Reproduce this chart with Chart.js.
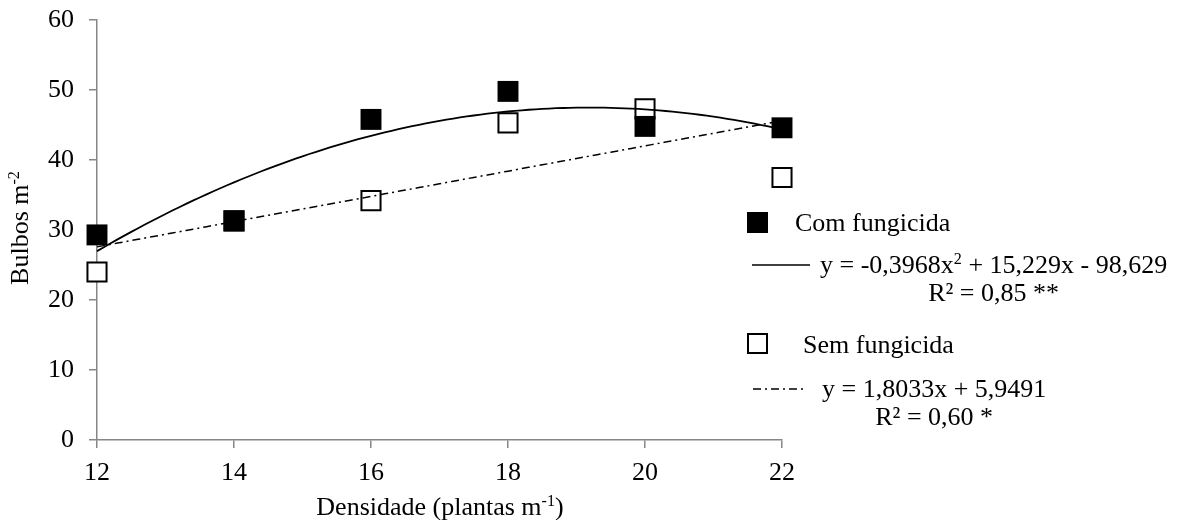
<!DOCTYPE html>
<html lang="pt">
<head>
    <meta charset="UTF-8">
    <title>Bulbos m-2 x Densidade</title>
    <script src="https://cdn.jsdelivr.net/npm/chart.js"></script>
    <style>
        body {
            margin: 0;
            padding: 0;
            background: #ffffff;
        }
        #wrap {
            width: 1187px;
            height: 520px;
            position: relative;
        }
    </style>
</head>
<body>
    <div id="wrap">
        <canvas id="chart" width="1187" height="520"></canvas>
    </div>

    <script>
        // data
        const densidade = [12, 14, 16, 18, 20, 22];
        const comFungicida = [29.3, 31.3, 45.8, 49.8, 44.8, 44.6];
        const semFungicida = [24.0, 31.3, 34.2, 45.3, 47.3, 37.5];

        // regression coefficients printed in the legend (a, b, c of a*x^2 + b*x + c)
        const coefComQuad = [-0.3968, 15.229, -98.629];
        const coefSemLin = [0, 1.8033, 5.9491];

        const xTicks = [12, 14, 16, 18, 20, 22];
        const yTicks = [0, 10, 20, 30, 40, 50, 60];

        const FONT = '"Liberation Serif", "Times New Roman", serif';
        const FS = 26;
        const AXIS_GREY = '#868686';

        function trendPoints(coef) {
            const pts = [];
            for (let x = densidade[0]; x <= densidade[densidade.length - 1] + 1e-9; x += 0.1) {
                pts.push({ x: x, y: coef[0] * x * x + coef[1] * x + coef[2] });
            }
            return pts;
        }

        function toXY(ys) {
            return densidade.map((x, i) => ({ x: x, y: ys[i] }));
        }

        function richWidth(ctx, parts, size) {
            let total = 0;
            parts.forEach(p => {
                ctx.font = (p[1] ? size * 0.62 : size) + 'px ' + FONT;
                total += ctx.measureText(p[0]).width;
            });
            return total;
        }

        // text with superscript pieces: parts = [[text, isSup], ...]
        function drawRich(ctx, parts, x, y, size, align) {
            const total = richWidth(ctx, parts, size);
            let cx = align === 'center' ? x - total / 2 : x;
            ctx.textAlign = 'left';
            ctx.textBaseline = 'alphabetic';
            parts.forEach(p => {
                ctx.font = (p[1] ? size * 0.62 : size) + 'px ' + FONT;
                ctx.fillText(p[0], cx, p[1] ? y - size * 0.36 : y);
                cx += ctx.measureText(p[0]).width;
            });
            return total;
        }

        const extrasPlugin = {
            id: 'extras',
            afterDraw(chart) {
                const ctx = chart.ctx;
                ctx.save();
                ctx.fillStyle = '#000';

                // axis titles
                drawRich(ctx, [['Densidade (plantas m', false], ['-1', true], [')', false]], 440, 515, FS, 'center');
                ctx.save();
                ctx.translate(28, 228);
                ctx.rotate(-Math.PI / 2);
                drawRich(ctx, [['Bulbos m', false], ['-2', true]], 0, 0, FS, 'center');
                ctx.restore();

                // legend
                ctx.fillRect(747, 212, 21, 21);
                drawRich(ctx, [['Com fungicida', false]], 795, 231, FS, 'left');

                ctx.strokeStyle = '#000';
                ctx.lineWidth = 1.6;
                ctx.beginPath();
                ctx.moveTo(752, 265);
                ctx.lineTo(810, 265);
                ctx.stroke();
                const w1 = drawRich(ctx, [['y = -0,3968x', false], ['2', true], [' + 15,229x - 98,629', false]], 820, 273, FS, 'left');
                drawRich(ctx, [['R² = 0,85 **', false]], 820 + w1 / 2, 301, FS, 'center');

                ctx.lineWidth = 2;
                ctx.strokeRect(748, 334, 19, 19);
                drawRich(ctx, [['Sem fungicida', false]], 803, 353, FS, 'left');

                ctx.lineWidth = 1.5;
                ctx.setLineDash([8, 4, 2, 4]);
                ctx.beginPath();
                ctx.moveTo(753, 389);
                ctx.lineTo(806, 389);
                ctx.stroke();
                ctx.setLineDash([]);
                const w2 = drawRich(ctx, [['y = 1,8033x + 5,9491', false]], 822, 397, FS, 'left');
                drawRich(ctx, [['R² = 0,60 *', false]], 822 + w2 / 2, 425, FS, 'center');

                ctx.restore();
            }
        };

        const ctx = document.getElementById('chart').getContext('2d');

        new Chart(ctx, {
            type: 'scatter',
            data: {
                datasets: [
                    {
                        label: 'Com fungicida (tendência)',
                        type: 'line',
                        data: trendPoints(coefComQuad),
                        borderColor: '#000',
                        borderWidth: 1.8,
                        pointRadius: 0,
                        fill: false,
                        tension: 0,
                        clip: false
                    },
                    {
                        label: 'Sem fungicida (tendência)',
                        type: 'line',
                        data: trendPoints(coefSemLin),
                        borderColor: '#000',
                        borderWidth: 1.5,
                        borderDash: [8, 4, 2, 4],
                        pointRadius: 0,
                        fill: false,
                        tension: 0,
                        clip: false
                    },
                    {
                        label: 'Com fungicida',
                        data: toXY(comFungicida),
                        pointStyle: 'rect',
                        pointRadius: 14.8,
                        backgroundColor: '#000',
                        borderColor: '#000',
                        borderWidth: 0,
                        clip: false
                    },
                    {
                        label: 'Sem fungicida',
                        data: toXY(semFungicida),
                        pointStyle: 'rect',
                        pointRadius: 13.5,
                        backgroundColor: '#fff',
                        borderColor: '#000',
                        borderWidth: 2,
                        clip: false
                    }
                ]
            },
            options: {
                responsive: false,
                animation: false,
                layout: {
                    padding: { left: 0, top: 20, right: 405, bottom: 0 }
                },
                plugins: {
                    legend: { display: false },
                    tooltip: { enabled: false }
                },
                scales: {
                    x: {
                        type: 'linear',
                        min: 12,
                        max: 22,
                        afterFit(scale) { scale.height = 80; },
                        afterBuildTicks(scale) { scale.ticks = xTicks.map(v => ({ value: v })); },
                        grid: {
                            drawOnChartArea: false,
                            drawTicks: true,
                            tickLength: 8,
                            color: AXIS_GREY,
                            lineWidth: 1.5
                        },
                        border: { color: AXIS_GREY, width: 1.5 },
                        ticks: {
                            color: '#000',
                            padding: 10,
                            font: { family: FONT, size: FS }
                        }
                    },
                    y: {
                        min: 0,
                        max: 60,
                        afterFit(scale) {
                            scale.width = 97;
                            scale.paddingTop = 0;
                            scale.paddingBottom = 0;
                        },
                        afterBuildTicks(scale) { scale.ticks = yTicks.map(v => ({ value: v })); },
                        grid: {
                            drawOnChartArea: false,
                            drawTicks: true,
                            tickLength: 8,
                            color: AXIS_GREY,
                            lineWidth: 1.5
                        },
                        border: { color: AXIS_GREY, width: 1.5 },
                        ticks: {
                            color: '#000',
                            padding: 15,
                            font: { family: FONT, size: FS }
                        }
                    }
                }
            },
            plugins: [extrasPlugin]
        });
    </script>
</body>
</html>
